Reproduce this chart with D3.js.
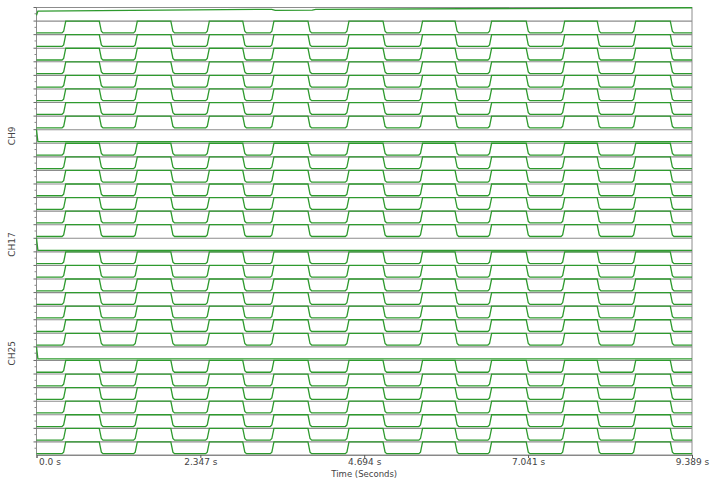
<!DOCTYPE html>
<html>
<head>
<meta charset="utf-8">
<script src="https://cdn.jsdelivr.net/npm/d3@7"></script>
<style>
  body { margin: 0; background: #fff; }
  text { font-family: "DejaVu Sans", sans-serif; fill: #444; }
</style>
</head>
<body>
<div id="chart"></div>
<script>
// Multi-channel logic trace

// Chart size and plot area
const width = 714
const height = 487
const margin = { top: 7, right: 22, bottom: 32, left: 36.5 }

// Channels (rows, top to bottom) and which ones get a label
const channels = d3.range(0, 33).map(d => `CH${d}`)
const labelled = ['CH9', 'CH17', 'CH25']
// rows that stay flat (no toggling)
const flatLow = ['CH9', 'CH17', 'CH25']
const flatHigh = ['CH0']

// Edge times (seconds) of the toggling channels, alternating rise / fall
const edgeTimes = [0.401, 0.917, 1.426, 1.942, 2.458, 2.972, 3.383, 3.906, 4.458,
  4.981, 5.512, 6.013, 6.501, 7.032, 7.548, 8.049, 8.565, 9.096]
const lowLevel = 0.1
const highLevel = 1.0

// CH0 readings (time, level)
const ch0Times = [0, 0.02, 3.37, 3.42, 3.95, 4.0, 9.389]
const ch0Levels = [0.4, 0.72, 0.86, 0.78, 0.8, 0.86, 0.98]

// Flat channels: start high then drop
const flatTimes = [0, 0.02, 9.389]
const flatLevels = [1.0, 0.08, 0.08]

// X ticks
const tMax = 9.389
const tickValues = [0, 2.347, 4.694, 7.041, 9.389]
const tickLabels = ['0.0 s', '2.347 s', '4.694 s', '7.041 s', '9.389 s']

const svg = d3.select('#chart')
  .append('svg')
  .attr('width', width)
  .attr('height', height)

const x = d3.scaleLinear()
  .domain([0, tMax])
  .range([margin.left, width - margin.right])

const y = d3.scaleBand()
  .domain(channels)
  .range([margin.top, height - margin.bottom])

// build a square wave with sloped edges from the edge list
function squareWave () {
  const pts = [[0, lowLevel]]
  edgeTimes.forEach((t, i) => {
    if (i % 2 === 0) {
      // rising: rounded bottom, sharp top
      pts.push([t - 0.035, lowLevel], [t - 0.012, lowLevel + 0.12], [t + 0.018, highLevel])
    } else {
      // falling: sharp top, rounded bottom
      pts.push([t - 0.018, highLevel], [t + 0.012, lowLevel + 0.12], [t + 0.035, lowLevel])
    }
  })
  pts.push([tMax, lowLevel])
  return pts
}

function channelData (ch) {
  if (flatHigh.includes(ch)) return ch0Times.map((t, i) => [t, ch0Levels[i]])
  if (flatLow.includes(ch)) return flatTimes.map((t, i) => [t, flatLevels[i]])
  return squareWave()
}

// row separators
svg.append('g')
  .selectAll('line')
  .data(channels)
  .join('line')
  .attr('x1', margin.left)
  .attr('x2', width - margin.right)
  .attr('y1', d => y(d) + 0.5)
  .attr('y2', d => y(d) + 0.5)
  .attr('stroke', '#8c8c8c')
  .attr('stroke-width', 1.1)

// frame
svg.append('rect')
  .attr('x', margin.left)
  .attr('y', margin.top + 0.5)
  .attr('width', width - margin.right - margin.left)
  .attr('height', height - margin.bottom - margin.top - 0.5)
  .attr('fill', 'none')
  .attr('stroke', '#8c8c8c')
  .attr('stroke-width', 1)

// y ticks (boundaries and mid rows)
const yTicks = svg.append('g')
channels.forEach(ch => {
  yTicks.append('line')
    .attr('x1', margin.left - 3).attr('x2', margin.left)
    .attr('y1', y(ch) + 0.5).attr('y2', y(ch) + 0.5)
    .attr('stroke', '#666')
  yTicks.append('line')
    .attr('x1', margin.left - 2).attr('x2', margin.left)
    .attr('y1', y(ch) + y.bandwidth() / 2).attr('y2', y(ch) + y.bandwidth() / 2)
    .attr('stroke', '#888')
})

// traces
const traces = svg.append('g')
channels.forEach(ch => {
  const v = d3.scaleLinear()
    .domain([0, 1])
    .range([y(ch) + y.bandwidth(), y(ch) + 0.5])
  const line = d3.line()
    .x(d => x(d[0]))
    .y(d => v(d[1]))
  traces.append('path')
    .datum(channelData(ch))
    .attr('d', line)
    .attr('fill', 'none')
    .attr('stroke', '#2e9a2e')
    .attr('stroke-width', 1.3)
})

// y labels
svg.append('g')
  .selectAll('text')
  .data(labelled)
  .join('text')
  .attr('transform', d => `translate(15, ${y(d) + y.bandwidth() / 2}) rotate(-90)`)
  .attr('text-anchor', 'middle')
  .attr('font-size', 9)
  .text(d => d)

// x axis
const xAxis = svg.append('g')
  .attr('transform', `translate(0, ${height - margin.bottom})`)
  .call(d3.axisBottom(x)
    .tickValues(tickValues)
    .tickFormat((d, i) => tickLabels[i])
    .tickSize(3))
xAxis.select('.domain').attr('stroke', '#888')
xAxis.selectAll('.tick line').attr('stroke', '#555')
xAxis.selectAll('.tick text')
  .attr('font-size', 9)
  .attr('font-family', 'DejaVu Sans, sans-serif')
  .attr('fill', '#444')
  .attr('y', 4)
  .attr('dy', '0.71em')
  .attr('text-anchor', (d, i) => i === 0 ? 'start' : 'middle')
  .attr('dx', (d, i) => i === 0 ? 2 : 0)

// axis title
svg.append('text')
  .text('Time (Seconds)')
  .attr('x', x(tMax / 2))
  .attr('y', 477)
  .attr('text-anchor', 'middle')
  .attr('font-size', 8.5)
</script>
</body>
</html>
